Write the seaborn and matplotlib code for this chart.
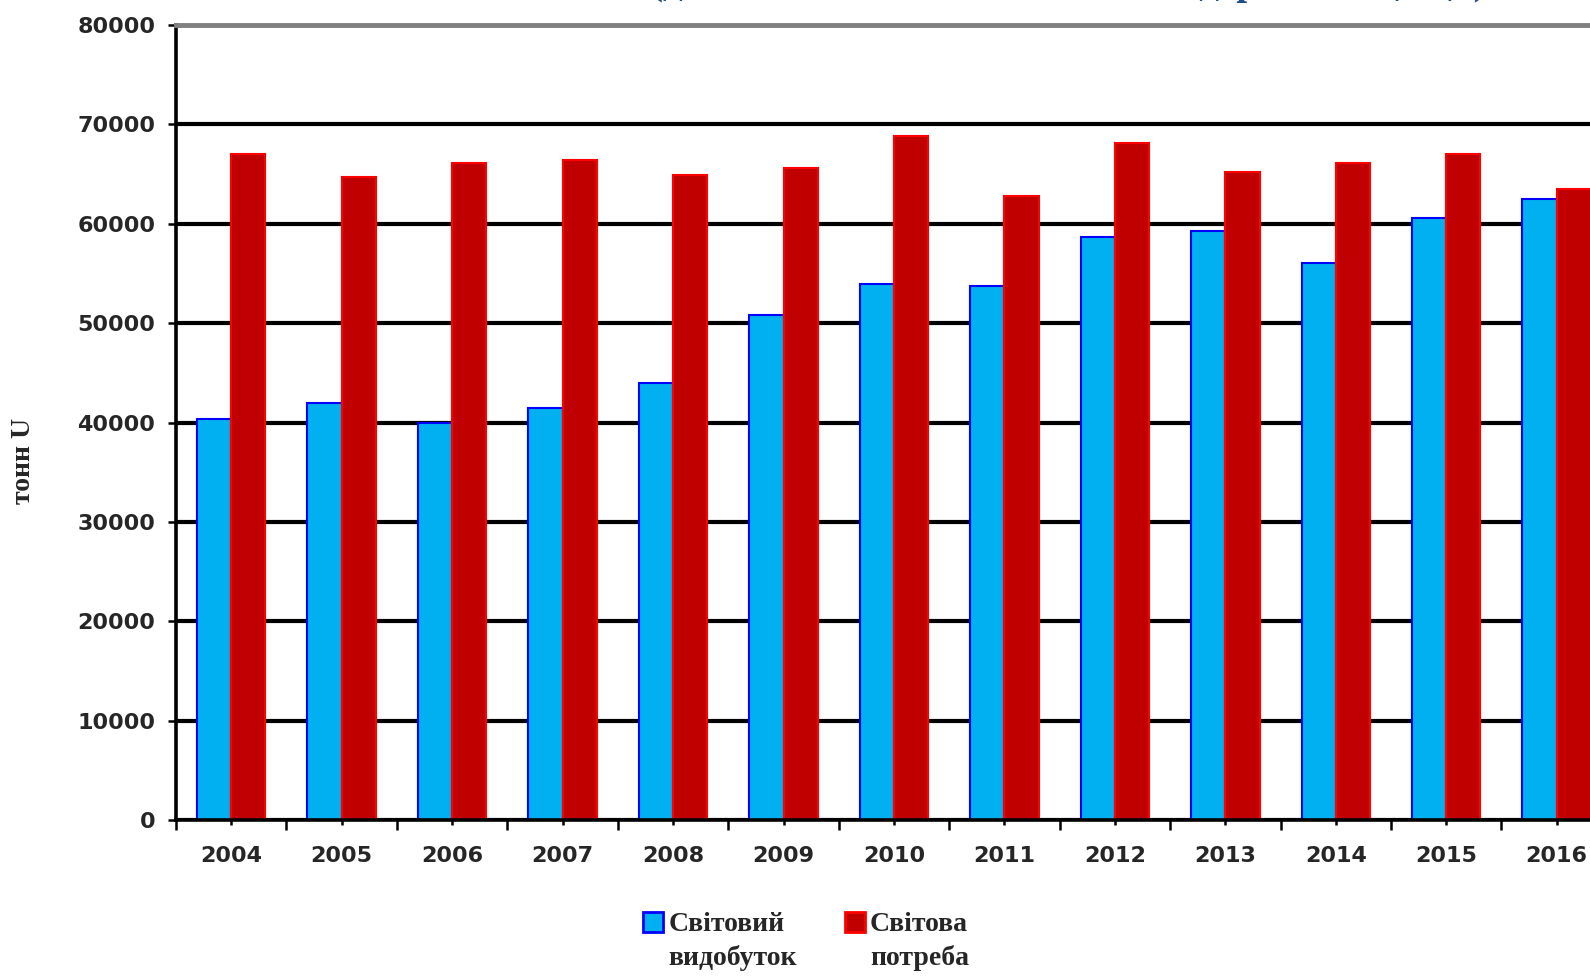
import pandas as pd
import seaborn as sns
import matplotlib.pyplot as plt
from matplotlib.patches import Patch, Rectangle
from matplotlib.legend_handler import HandlerPatch

# values (тонн U)
years = ["2004", "2005", "2006", "2007", "2008", "2009", "2010",
         "2011", "2012", "2013", "2014", "2015", "2016"]
production = [40400, 42000, 40000, 41500, 44000, 50800, 53900,
              53700, 58700, 59300, 56100, 60600, 62500]
demand = [67000, 64700, 66100, 66400, 64900, 65600, 68800,
          62800, 68100, 65200, 66100, 67000, 63500]
series = ["Світовий\nвидобуток", "Світова\nпотреба"]
title = "(дані МАГАТЕ та Всесвітньої ядерної асоціації)"

df = pd.DataFrame({
    "year": years * 2,
    "series": [series[0]] * len(years) + [series[1]] * len(years),
    "value": production + demand,
})

fill = {series[0]: "#00B0F0", series[1]: "#C00000"}
edge = {series[0]: "#0000FF", series[1]: "#FF0000"}

sns.set_style("white")
plt.rcParams["font.family"] = ["DejaVu Sans"]

fig = plt.figure(figsize=(15.9, 9.76), dpi=100)
ax = fig.add_axes([0.1107, 0.1598, 0.9031, 0.8146])

sns.barplot(data=df, x="year", y="value", hue="series", hue_order=series,
            palette=fill, width=0.62, saturation=1, errorbar=None,
            legend=False, ax=ax, zorder=2)
for cont, s in zip(ax.containers, series):
    for bar in cont:
        bar.set_edgecolor(edge[s])
        bar.set_linewidth(1.5)

ax.set_xlim(-0.5, len(years) - 0.5)
ax.set_ylim(0, 80000)
ax.set_yticks(range(0, 80001, 10000))
ax.set_yticklabels([str(v) for v in range(0, 80001, 10000)])
ax.set_xticks(range(len(years)))
ax.set_xticklabels(years)
ax.set_xticks([i - 0.5 for i in range(len(years) + 1)], minor=True)
ax.set_xlabel("")
ax.set_ylabel("")

ax.set_axisbelow(True)
ax.yaxis.grid(True, color="black", linewidth=3)
ax.xaxis.grid(False)

for side in ["left", "bottom"]:
    ax.spines[side].set_color("black")
    ax.spines[side].set_linewidth(2.6)
ax.spines["top"].set_color("#808080")
ax.spines["top"].set_linewidth(3.5)
ax.spines["right"].set_visible(False)

ax.tick_params(axis="y", which="major", direction="out", length=6, width=1.8,
               color="black", pad=9, left=True, labelsize=16)
ax.tick_params(axis="x", which="major", direction="out", length=3.6, width=1.8,
               color="black", pad=15, bottom=True, labelsize=16)
ax.tick_params(axis="x", which="minor", direction="out", length=7, width=1.8,
               color="black", bottom=True)
for lab in ax.get_xticklabels() + ax.get_yticklabels():
    lab.set_fontweight("bold")

fig.text(24 / 1590, 1 - 461 / 976, "тонн U", rotation=90, ha="center",
         va="center", fontsize=20, fontweight="bold", family="Liberation Serif")

# title sits above the top edge, only its lowest strokes show (as in the source)
fig.text(0.672, 1.006, title, ha="center", va="baseline", fontsize=28,
         fontweight="bold", family="Liberation Serif", color="#1F4E89")


def top_patch(legend, orig_handle, xdescent, ydescent, width, height, fontsize):
    # put the square next to the first line of the two-line label
    return Rectangle((-xdescent, -ydescent + 0.7 * fontsize), width, height)


handles = [Patch(facecolor=fill[s], edgecolor=edge[s], linewidth=2) for s in series]
leg = fig.legend(handles, series, loc="center", bbox_to_anchor=(0.507, 0.035),
                 ncol=2, frameon=False, handlelength=0.72, handleheight=0.75,
                 handletextpad=0.2, columnspacing=1.7, borderpad=0,
                 borderaxespad=0,
                 handler_map={Patch: HandlerPatch(patch_func=top_patch)},
                 prop={"family": "Liberation Serif", "weight": "bold", "size": 20})
for t in leg.get_texts():
    t.set_linespacing(1.4)

fig.savefig("out.png", dpi=100)
